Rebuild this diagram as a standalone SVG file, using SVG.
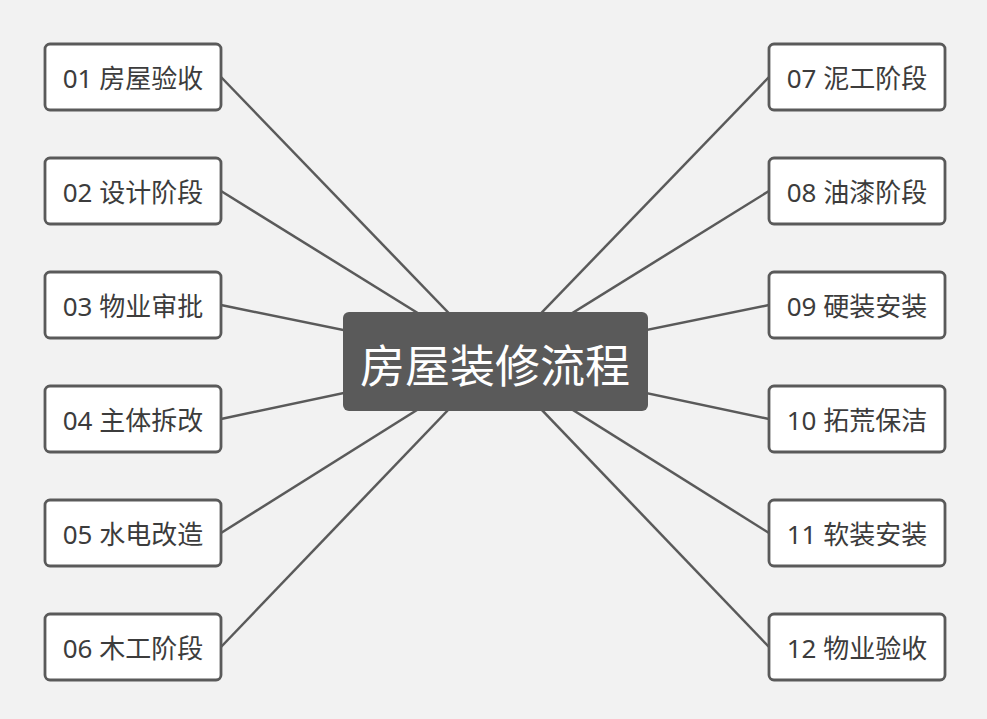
<svg xmlns="http://www.w3.org/2000/svg" width="987" height="719" viewBox="0 0 987 719">
<style>
.bg{fill:#f2f2f2}
.node rect{fill:#ffffff;stroke:#5a5a5a;stroke-width:2.8}
.node text{font-family:"Noto Sans","Noto Sans CJK SC",sans-serif;font-size:26px;fill:#3c3c3c;text-anchor:middle;dominant-baseline:central}
.links line{stroke:#5a5a5a;stroke-width:2.5}
#center rect{fill:#5a5a5a}
#center text{font-family:"Noto Sans CJK SC",sans-serif;font-size:45px;fill:#ffffff;text-anchor:middle;dominant-baseline:central}
</style>
<rect class="bg" x="0" y="0" width="987" height="719"/>
<g class="links">
<line x1="221" y1="77" x2="495" y2="361"/>
<line x1="221" y1="191" x2="495" y2="361"/>
<line x1="221" y1="305" x2="495" y2="361"/>
<line x1="221" y1="419" x2="495" y2="361"/>
<line x1="221" y1="533" x2="495" y2="361"/>
<line x1="221" y1="647" x2="495" y2="361"/>
<line x1="769" y1="77" x2="495" y2="361"/>
<line x1="769" y1="191" x2="495" y2="361"/>
<line x1="769" y1="305" x2="495" y2="361"/>
<line x1="769" y1="419" x2="495" y2="361"/>
<line x1="769" y1="533" x2="495" y2="361"/>
<line x1="769" y1="647" x2="495" y2="361"/>
</g>
<g id="center"><rect x="343" y="312" width="305" height="99" rx="6"/><text x="495" y="363">房屋装修流程</text></g>
<g id="n01" class="node"><rect x="45" y="44" width="176" height="66" rx="5"/><text x="133" y="78">01 房屋验收</text></g>
<g id="n02" class="node"><rect x="45" y="158" width="176" height="66" rx="5"/><text x="133" y="192">02 设计阶段</text></g>
<g id="n03" class="node"><rect x="45" y="272" width="176" height="66" rx="5"/><text x="133" y="306">03 物业审批</text></g>
<g id="n04" class="node"><rect x="45" y="386" width="176" height="66" rx="5"/><text x="133" y="420">04 主体拆改</text></g>
<g id="n05" class="node"><rect x="45" y="500" width="176" height="66" rx="5"/><text x="133" y="534">05 水电改造</text></g>
<g id="n06" class="node"><rect x="45" y="614" width="176" height="66" rx="5"/><text x="133" y="648">06 木工阶段</text></g>
<g id="n07" class="node"><rect x="769" y="44" width="176" height="66" rx="5"/><text x="857" y="78">07 泥工阶段</text></g>
<g id="n08" class="node"><rect x="769" y="158" width="176" height="66" rx="5"/><text x="857" y="192">08 油漆阶段</text></g>
<g id="n09" class="node"><rect x="769" y="272" width="176" height="66" rx="5"/><text x="857" y="306">09 硬装安装</text></g>
<g id="n10" class="node"><rect x="769" y="386" width="176" height="66" rx="5"/><text x="857" y="420">10 拓荒保洁</text></g>
<g id="n11" class="node"><rect x="769" y="500" width="176" height="66" rx="5"/><text x="857" y="534">11 软装安装</text></g>
<g id="n12" class="node"><rect x="769" y="614" width="176" height="66" rx="5"/><text x="857" y="648">12 物业验收</text></g>
</svg>
